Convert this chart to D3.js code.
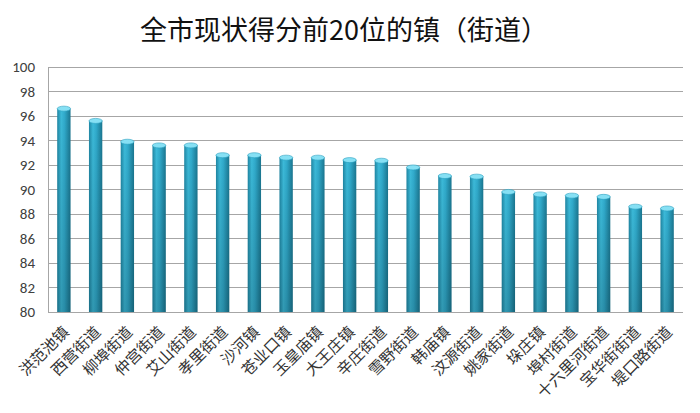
<!DOCTYPE html>
<html><head><meta charset="utf-8">
<script src="https://cdn.jsdelivr.net/npm/d3@7"></script>
<style>body{margin:0;background:#fff;} svg{display:block;}</style>
</head><body>
<svg id="chart" width="700" height="413"></svg>
<script>
const titleText = "全市现状得分前20位的镇（街道）";
const categories = ["洪范池镇","西营街道","柳埠街道","仲宫街道","艾山街道","孝里街道","沙河镇","苍业口镇","玉皇庙镇","大王庄镇","辛庄街道","雪野街道","韩庙镇","汶源街道","姚家街道","垛庄镇","埠村街道","十六里河街道","宝华街街道","堤口路街道"];
const values = [96.6,95.6,93.9,93.6,93.6,92.8,92.8,92.6,92.6,92.4,92.35,91.8,91.1,91.05,89.8,89.6,89.5,89.4,88.6,88.45];
const yTicks = [80,82,84,86,88,90,92,94,96,98,100];

const svg = d3.select("#chart");
const m = {left:48, right:683, top:67, bottom:312};
const x = d3.scaleBand().domain(categories).range([m.left, m.right]).paddingInner(0.58).paddingOuter(0.29);
const y = d3.scaleLinear().domain([80,100]).range([m.bottom, m.top]);

const defs = svg.append("defs");
const g = defs.append("linearGradient").attr("id","cyl").attr("x1","0").attr("x2","1").attr("y1","0").attr("y2","0");
[["0%","#1f86a3"],["30%","#3cbad9"],["55%","#30aacb"],["100%","#1a7690"]].forEach(([o,c])=>g.append("stop").attr("offset",o).attr("stop-color",c));
const gv = defs.append("linearGradient").attr("id","shade").attr("x1","0").attr("x2","0").attr("y1","0").attr("y2","1");
gv.append("stop").attr("offset","0%").attr("stop-color","#000").attr("stop-opacity",0);
gv.append("stop").attr("offset","100%").attr("stop-color","#000").attr("stop-opacity",0.18);

// gridlines
svg.append("g").selectAll("line").data(yTicks).join("line")
  .attr("x1", m.left).attr("x2", m.right)
  .attr("y1", d=>y(d)).attr("y2", d=>y(d))
  .attr("stroke", "#a6a6a6").attr("stroke-width", 1).attr("shape-rendering","crispEdges");

// y axis
const yAxis = svg.append("g").attr("transform", `translate(${m.left},0)`)
  .call(d3.axisLeft(y).tickValues(yTicks).tickSize(0).tickPadding(13));
yAxis.select(".domain").attr("stroke","#a6a6a6").attr("shape-rendering","crispEdges");
yAxis.selectAll("text").attr("font-family","Carlito, 'Liberation Sans', sans-serif").attr("font-size","15px").attr("fill","#404040");

// bars
const bars = svg.append("g").selectAll("g").data(values).join("g");
const bw = x.bandwidth();
bars.append("rect")
  .attr("x",(d,i)=>x(categories[i])).attr("width",bw)
  .attr("y",d=>y(d)).attr("height",d=>y(80)-y(d))
  .attr("fill","url(#cyl)");
bars.append("rect")
  .attr("x",(d,i)=>x(categories[i])).attr("width",bw)
  .attr("y",d=>y(d)).attr("height",d=>y(80)-y(d))
  .attr("fill","url(#shade)");
bars.append("ellipse")
  .attr("cx",(d,i)=>x(categories[i])+bw/2).attr("cy",d=>y(d))
  .attr("rx",bw/2).attr("ry",2.5)
  .attr("fill","#86e0f4").attr("stroke","#2a9fc0").attr("stroke-width",0.6);

// x axis line
svg.append("line").attr("x1",m.left).attr("x2",m.right).attr("y1",y(80)).attr("y2",y(80))
  .attr("stroke","#a6a6a6").attr("shape-rendering","crispEdges");

// x labels
svg.append("g").selectAll("text").data(categories).join("text")
  .attr("transform", d=>`translate(${x(d)+bw/2+6},${m.bottom+21}) rotate(-45)`)
  .attr("text-anchor","end")
  .attr("font-family","'Noto Sans CJK SC', sans-serif")
  .attr("font-size","15.5px").attr("fill","#333")
  .text(d=>d);

// title
svg.append("text").attr("x",344).attr("y",40).attr("text-anchor","middle")
  .attr("font-family","'Noto Sans CJK SC', sans-serif").attr("font-size","27px").attr("fill","#111")
  .text(titleText);
</script>
</body></html>
